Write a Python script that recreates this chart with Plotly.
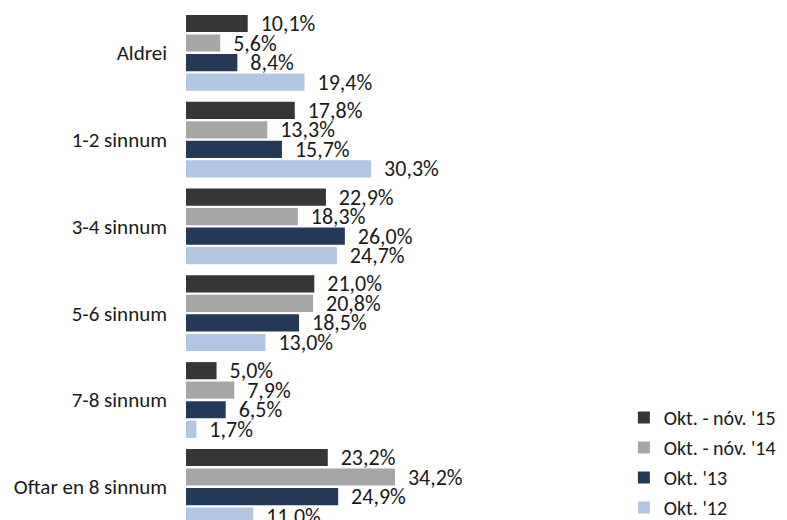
import plotly.graph_objects as go

categories = ["Aldrei", "1-2 sinnum", "3-4 sinnum", "5-6 sinnum", "7-8 sinnum", "Oftar en 8 sinnum"]
series_names = ["Okt. - nóv. '15", "Okt. - nóv. '14", "Okt. '13", "Okt. '12"]
values_15 = [10.1, 17.8, 22.9, 21.0, 5.0, 23.2]
values_14 = [5.6, 13.3, 18.3, 20.8, 7.9, 34.2]
values_13 = [8.4, 15.7, 26.0, 18.5, 6.5, 24.9]
values_12 = [19.4, 30.3, 24.7, 13.0, 1.7, 11.0]
series_values = [values_15, values_14, values_13, values_12]
colors = ["#363636", "#a6a6a6", "#243858", "#b1c6e3"]

FONT = "Carlito, Lato, sans-serif"

fig = go.Figure()
for i, (name, vals) in enumerate(zip(series_names, series_values)):
    fig.add_trace(go.Bar(
        y=categories, x=vals, name=name, orientation="h",
        marker=dict(color=colors[i], line=dict(width=0)),
        text=["  " + f"{v:.1f}".replace(".", ",") + "%" for v in vals],
        textposition="outside", constraintext="none", cliponaxis=False,
        textfont=dict(family=FONT, size=22, color="#1a1a1a"),
        legendgroup=f"g{i}",
        hoverinfo="skip",
    ))

fig.update_layout(
    width=787, height=520,
    margin=dict(l=178, r=0, t=0, b=0, autoexpand=False),
    paper_bgcolor="white", plot_bgcolor="white",
    barmode="group", bargap=0.1, bargroupgap=0.12,
    showlegend=True,
    legend=dict(
        x=0.719, y=0.25, xanchor="left", yanchor="top",
        traceorder="grouped", tracegroupgap=1,
        font=dict(family=FONT, size=20, color="#1a1a1a"),
        bgcolor="rgba(0,0,0,0)",
        itemwidth=30,
    ),
    xaxis=dict(range=[0, 99.67], visible=False),
    yaxis=dict(
        range=[5.475, -0.516], showgrid=False, zeroline=False, showline=False,
        ticks="", ticklabelstandoff=18, automargin=False,
        tickfont=dict(family=FONT, size=21, color="#1a1a1a"),
    ),
)

fig.write_html("out.html")
